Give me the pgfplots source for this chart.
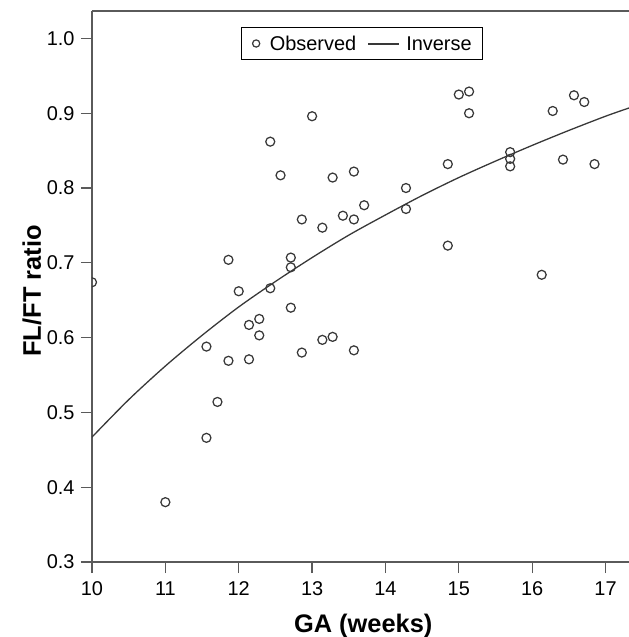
\documentclass[border=0pt]{standalone}
\usepackage{pgfplots}
\pgfplotsset{compat=1.18}
\usepackage{fontspec}
\setmainfont{Liberation Sans}

\definecolor{ink}{HTML}{383838}
\definecolor{spine}{HTML}{5A5A5A}

\begin{document}
\begin{tikzpicture}
\useasboundingbox (-92bp,-75bp) rectangle (537bp,562bp);
\begin{axis}[
  scale only axis,
  width=537bp, height=551bp,
  xmin=10, xmax=17.32,
  ymin=0.3, ymax=1.0367,
  xtick={10,11,...,17},
  ytick={0.3,0.4,...,1.0},
  yticklabel style={/pgf/number format/fixed, /pgf/number format/fixed zerofill, /pgf/number format/precision=1},
  /pgf/number format/assume math mode=true,
  axis lines=left,
  axis line style={spine, line width=1.4bp, -},
  tick style={spine, line width=1.2bp},
  tick align=outside,
  major tick length=11bp,
  tick label style={font=\fontsize{20}{23}\selectfont},
  xticklabel style={yshift=-5bp},
  yticklabel style={xshift=-3bp},
  xlabel={\textbf{GA (weeks)}},
  ylabel={\textbf{FL/FT ratio}},
  label style={font=\fontsize{25.5}{28}\selectfont},
  xlabel style={at={(axis description cs:0.505,-0.1275)}, anchor=base},
  ylabel style={at={(axis description cs:-0.095,0.492)}, anchor=base},
  legend columns=2,
  legend style={at={(0.2775,0.9704)}, anchor=north west, draw=black, line width=0.9bp,
    font=\fontsize{20}{23}\selectfont, inner xsep=10.5bp, inner ysep=8bp,
    nodes={inner sep=0pt, text height=14.5bp, text depth=1bp},
    /tikz/column 1/.style={column sep=9.5bp},
    /tikz/column 2/.style={column sep=11bp},
    /tikz/column 3/.style={column sep=6bp}},
  legend cell align=left,
  clip mode=individual,
  clip marker paths=true,
]
% observed ratios
\addplot[only marks, mark=o, mark size=4.5bp, ink, mark options={line width=1.25bp},
  legend image code/.code={\draw[ink, line width=1.2bp] (0bp,0bp) circle (3.6bp);}]
  table[row sep=\\] {
  x y\\
  10.00 0.674\\
  11.00 0.380\\
  11.56 0.588\\
  11.56 0.466\\
  11.71 0.514\\
  11.86 0.704\\
  11.86 0.569\\
  12.00 0.662\\
  12.14 0.617\\
  12.14 0.571\\
  12.28 0.625\\
  12.28 0.603\\
  12.43 0.862\\
  12.43 0.666\\
  12.57 0.817\\
  12.71 0.707\\
  12.71 0.694\\
  12.71 0.640\\
  12.86 0.758\\
  12.86 0.580\\
  13.00 0.896\\
  13.14 0.747\\
  13.14 0.597\\
  13.28 0.814\\
  13.28 0.601\\
  13.42 0.763\\
  13.57 0.822\\
  13.57 0.758\\
  13.57 0.583\\
  13.71 0.777\\
  14.28 0.800\\
  14.28 0.772\\
  14.85 0.832\\
  14.85 0.723\\
  15.00 0.925\\
  15.14 0.929\\
  15.14 0.900\\
  15.70 0.848\\
  15.70 0.839\\
  15.70 0.829\\
  16.13 0.684\\
  16.28 0.903\\
  16.42 0.838\\
  16.57 0.924\\
  16.71 0.915\\
  16.85 0.832\\
  };
\addlegendentry{Observed}
% inverse fit
\addplot[ink, line width=1.3bp, smooth, mark=none,
  legend image code/.code={\draw[ink, line width=2bp] (0bp,0bp) -- (31bp,0bp);}]
  coordinates {
  (10.0,0.467) (10.5,0.517) (11.0,0.562) (11.5,0.603) (12.0,0.641)
  (12.5,0.675) (13.0,0.707) (13.5,0.737) (14.0,0.764) (14.5,0.790)
  (15.0,0.814) (15.5,0.836) (16.0,0.857) (16.5,0.877) (17.0,0.896)
  (17.32,0.907)
  };
\addlegendentry{Inverse}
\draw[spine, line width=1.4bp] (rel axis cs:0,1) -- (rel axis cs:1,1);
\end{axis}
\end{tikzpicture}
\end{document}
